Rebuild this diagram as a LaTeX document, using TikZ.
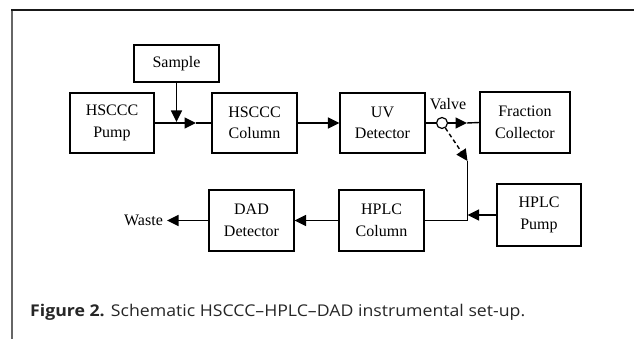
\documentclass[tikz,border=0pt]{standalone}
\usepackage{fontspec}
\setmainfont{Liberation Serif}
\newfontfamily\capfont{Open Sans}
\usetikzlibrary{arrows.meta}
\begin{document}
\begin{tikzpicture}[x=1pt,y=-1pt,
  box/.style={draw, line width=1.2pt, minimum width=85pt, minimum height=61pt, inner sep=1pt, align=center, font=\fontsize{16}{21.5}\selectfont},
  lbl/.style={inner sep=1.5pt, font=\fontsize{16}{21.5}\selectfont},
  conn/.style={line width=1.4pt},
  arr/.style={line width=1.4pt, -{Triangle[length=11.5pt,width=11pt]}},
]
\useasboundingbox (0,0) rectangle (634,339);
% frame
\draw[line width=1.5pt, black!60] (12,339) -- (12,10);
\draw[line width=1.5pt, black!90] (11.3,10) -- (634,10);

% nodes
\node[box, minimum height=37pt] (sample) at (176.5,63.5) {Sample};
\node[box, minimum width=84pt, minimum height=60pt] (hpump) at (112,123) {HSCCC\\Pump};
\node[box, minimum height=60pt] (hcol) at (254.5,123) {HSCCC\\Column};
\node[box, minimum height=60pt] (uv) at (382.5,123) {UV\\Detector};
\node[box, minimum width=90pt] (frac) at (525,122.5) {Fraction\\Collector};
\node[draw, circle, line width=1.2pt, minimum size=11pt, inner sep=0pt, fill=white] (valve) at (442,123) {};
\node[lbl] (vlabel) at (448,104) {Valve};
\node[box, minimum width=84pt, minimum height=62pt] (hplcpump) at (539,215) {HPLC\\Pump};
\node[box] (hplccol) at (381.5,220.5) {HPLC\\Column};
\node[box] (dad) at (251.5,220.5) {DAD\\Detector};
\node[lbl, inner sep=4pt] (waste) at (143.5,220.5) {Waste};

\coordinate (m1) at (196,123);
\coordinate (m2) at (467,123);
\coordinate (vtop) at (467.5,161);
\coordinate (jp) at (467.5,215);
\coordinate (jn) at (467.5,220.5);
\coordinate (sin) at (176.5,122);

% connectors
\draw[arr] (sample.south) -- (sin);
\draw[arr] (hpump.east) -- (m1);
\draw[conn] (m1) -- (hcol.west);
\draw[arr] (hcol.east) -- (uv.west);
\draw[conn] (uv.east) -- (valve.west);
\draw[arr] (valve.east) -- (m2);
\draw[conn] (m2) -- (frac.west);
\draw[arr, dashed, dash pattern=on 4pt off 3pt] (valve) -- (vtop);
\draw[conn] (vtop) -- (jn) -- (hplccol.east);
\draw[arr] (hplcpump.west) -- (jp);
\draw[arr] (hplccol.west) -- (dad.east);
\draw[arr] (dad.west) -- (waste.east);

% caption
\node[anchor=base west, inner sep=0pt, text=black!85] (cap) at (30,316.5) {\resizebox{495pt}{12.3pt}{\capfont\fontsize{16}{20}\selectfont\textbf{Figure 2.} Schematic HSCCC–HPLC–DAD instrumental set-up.}};
\end{tikzpicture}
\end{document}
